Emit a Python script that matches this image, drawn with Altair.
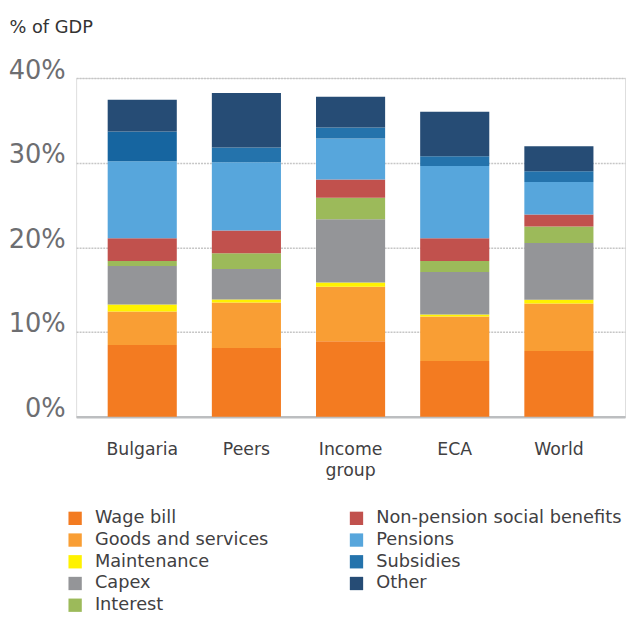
import altair as alt
import pandas as pd

countries = ["Bulgaria", "Peers", "Income group", "ECA", "World"]

components = [
    "Wage bill", "Goods and services", "Maintenance", "Capex", "Interest",
    "Non-pension social benefits", "Pensions", "Subsidies", "Other",
]

wage_bill = [8.45, 8.10, 8.92, 6.58, 7.75]
goods_services = [3.97, 5.38, 6.42, 5.25, 5.61]
maintenance = [0.82, 0.35, 0.51, 0.24, 0.46]
capex = [4.56, 3.62, 7.48, 5.03, 6.70]
interest = [0.58, 1.85, 2.53, 1.28, 1.95]
non_pension = [2.69, 2.70, 2.14, 2.69, 1.40]
pensions = [9.11, 8.05, 4.87, 8.53, 3.86]
subsidies = [3.51, 1.75, 1.28, 1.17, 1.27]
other = [3.74, 6.43, 3.63, 5.26, 2.93]

series = [wage_bill, goods_services, maintenance, capex, interest,
          non_pension, pensions, subsidies, other]

colors = {
    "Wage bill": "#F37B21",
    "Goods and services": "#F99E34",
    "Maintenance": "#FFF200",
    "Capex": "#949598",
    "Interest": "#9CBA5A",
    "Non-pension social benefits": "#C1514D",
    "Pensions": "#57A6DC",
    "Subsidies": "#2473AC",
    "Other": "#264C75",
}

rows = []
for k, (comp, vals) in enumerate(zip(components, series)):
    for c, v in zip(countries, vals):
        rows.append({"country": c, "component": comp, "value": v, "ord": k})
df = pd.DataFrame(rows)

color_scale = alt.Scale(domain=components, range=[colors[c] for c in components])

FONT = "DejaVu Sans"

chart = alt.Chart(df).mark_bar().encode(
    x=alt.X(
        "country:N",
        sort=countries,
        scale=alt.Scale(paddingInner=0.3365, paddingOuter=0.303),
        axis=alt.Axis(
            title=None,
            labelAngle=0,
            labelExpr="split(datum.label, ' ')",
            labelFont=FONT,
            labelFontSize=17.5,
            labelColor="#414042",
            labelLineHeight=22,
            labelBaseline="alphabetic",
            labelPadding=38,
            ticks=False,
            domainColor="#bcbec0",
            domainWidth=2.5,
            grid=False,
        ),
    ),
    y=alt.Y(
        "value:Q",
        stack="zero",
        scale=alt.Scale(domain=[0, 40], nice=False),
        axis=alt.Axis(
            title="% of GDP",
            titleAngle=0,
            titleX=-68,
            titleY=-46,
            titleAlign="left",
            titleBaseline="alphabetic",
            titleFont=FONT,
            titleFontSize=18,
            titleFontWeight="normal",
            titleColor="#333333",
            values=[0, 10, 20, 30, 40],
            labelExpr="datum.value + '%'",
            labelFont=FONT,
            labelFontSize=26,
            labelColor="#6d6e71",
            labelBaseline="alphabetic",
            labelAlign="right",
            labelPadding=11,
            domain=False,
            ticks=False,
            grid=True,
            gridColor="#c6c6c6",
            gridDash=[2, 1],
            gridWidth=1.5,
        ),
    ),
    color=alt.when(
        "datum.country == 'Bulgaria' && datum.component == 'Subsidies'"
    ).then(alt.value("#1665A0")).otherwise(
        alt.Color(
            "component:N",
            scale=color_scale,
            legend=alt.Legend(
                title=None,
                orient="none",
                legendX=-10,
                legendY=437,
                columns=2,
                symbolType="square",
                symbolSize=182,
                symbolStrokeWidth=0,
                symbolOpacity=1,
                labelFont=FONT,
                labelFontSize=18,
                labelColor="#414042",
                labelOffset=11,
                labelLimit=400,
                rowPadding=4,
                columnPadding=80,
                padding=0,
                gridAlign="each",
            ),
        )
    ),
    order=alt.Order("ord:Q", sort="ascending"),
).properties(
    width=556,
    height=343,
    autosize=alt.AutoSizeParams(type="none"),
    padding={"left": 69, "top": 67, "right": 1, "bottom": 199},
).configure_view(stroke=None).configure(background="white")

chart.save("out.html", embed_options={"renderer": "svg", "actions": False})
